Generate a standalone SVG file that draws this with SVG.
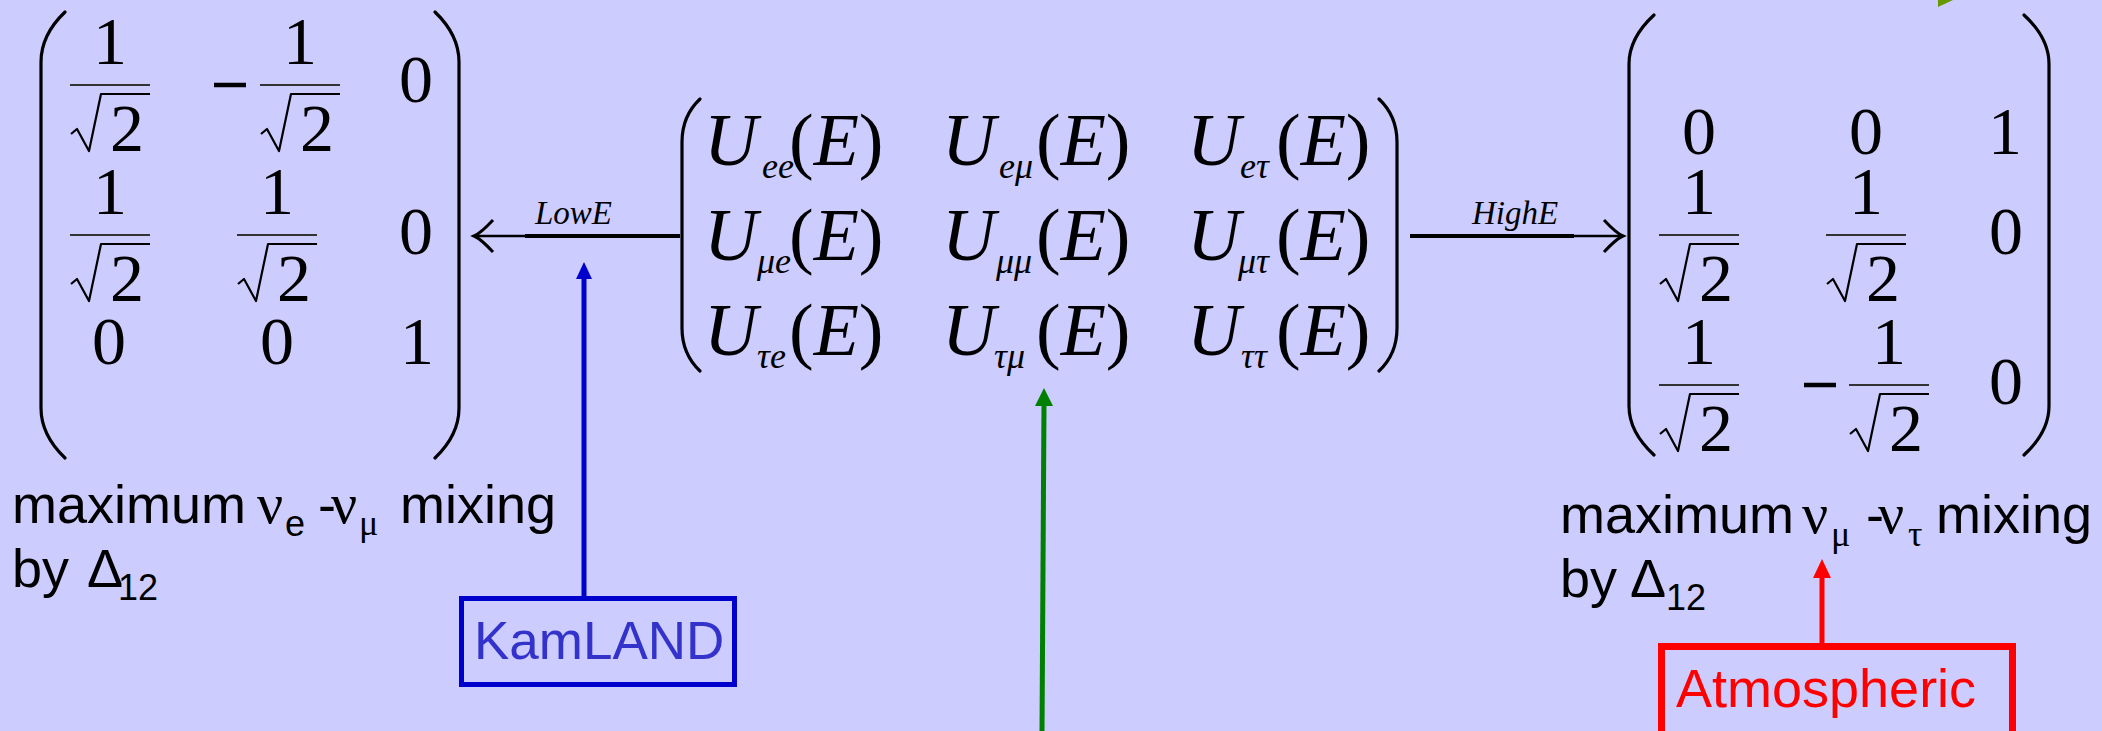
<svg xmlns="http://www.w3.org/2000/svg" width="2102" height="731" viewBox="0 0 2102 731">
<style>
.bg{fill:#ccccff}
.paren{fill:none;stroke:#000;stroke-width:3.2;stroke-linecap:round}
.bar{stroke:#333;stroke-width:2}
.rad{fill:none;stroke:#000;stroke-width:2.2;stroke-linejoin:round}
.minus{stroke:#000;stroke-width:4.5}
.dig{font-family:"Liberation Serif",serif;font-size:68px;text-anchor:middle;fill:#000}
.mi{font-family:"Liberation Serif",serif;font-style:italic;font-size:74px;fill:#000}
.mr{font-style:normal}
.sub{font-size:36px}
.lbl{font-family:"Liberation Serif",serif;font-style:italic;font-size:33px;fill:#000}
.txt{font-family:"Liberation Sans",Arial,sans-serif;font-size:54px;fill:#000}
.grk{font-family:"Liberation Serif",serif;font-size:58px}
.ss{font-size:36px}
.box{fill:none}
</style>
<rect class="bg" x="0" y="0" width="2102" height="731"/>

<g id="matrix-low">
  <path class="paren" d="M65,12 Q41,35 41,62 L41,408 Q41,435 65,458"/>
  <path class="paren" d="M435,12 Q459,35 459,62 L459,408 Q459,435 435,458"/>
  <!-- row 1 -->
  <text class="dig" x="110" y="64">1</text>
  <line class="bar" x1="70" y1="85" x2="150" y2="85"/>
  <polyline class="rad" points="71,134 77,129 89,151 101,94 150,94"/>
  <text class="dig" x="127" y="151">2</text>
  <line class="minus" x1="214" y1="85" x2="246" y2="85"/>
  <text class="dig" x="300" y="64">1</text>
  <line class="bar" x1="260" y1="85" x2="340" y2="85"/>
  <polyline class="rad" points="261,134 267,129 279,151 291,94 340,94"/>
  <text class="dig" x="317" y="151">2</text>
  <text class="dig" x="416" y="102">0</text>
  <!-- row 2 -->
  <text class="dig" x="110" y="214">1</text>
  <line class="bar" x1="70" y1="235" x2="150" y2="235"/>
  <polyline class="rad" points="71,284 77,279 89,301 101,244 150,244"/>
  <text class="dig" x="127" y="301">2</text>
  <text class="dig" x="277" y="214">1</text>
  <line class="bar" x1="237" y1="235" x2="317" y2="235"/>
  <polyline class="rad" points="238,284 244,279 256,301 268,244 317,244"/>
  <text class="dig" x="294" y="301">2</text>
  <text class="dig" x="416" y="254">0</text>
  <!-- row 3 -->
  <text class="dig" x="109" y="364">0</text>
  <text class="dig" x="277" y="364">0</text>
  <text class="dig" x="417" y="364">1</text>
</g>

<g id="matrix-u">
  <path class="paren" d="M700,99 Q682,116 682,142 L682,328 Q682,354 700,371"/>
  <path class="paren" d="M1379,99 Q1397,116 1397,142 L1397,328 Q1397,354 1379,371"/>
  <text class="mi" y="165"><tspan x="704">U</tspan><tspan class="sub" x="762" y="178">ee</tspan><tspan class="mr" x="789" y="165">(</tspan><tspan>E</tspan><tspan class="mr">)</tspan></text>
  <text class="mi" y="165"><tspan x="942">U</tspan><tspan class="sub" x="999" y="178">eμ</tspan><tspan class="mr" x="1036" y="165">(</tspan><tspan>E</tspan><tspan class="mr">)</tspan></text>
  <text class="mi" y="165"><tspan x="1187">U</tspan><tspan class="sub" x="1240" y="178">e</tspan><tspan class="sub" x="1256" y="178">τ</tspan><tspan class="mr" x="1276" y="165">(</tspan><tspan>E</tspan><tspan class="mr">)</tspan></text>
  <text class="mi" y="260"><tspan x="704">U</tspan><tspan class="sub" x="757" y="273">μe</tspan><tspan class="mr" x="789" y="260">(</tspan><tspan>E</tspan><tspan class="mr">)</tspan></text>
  <text class="mi" y="260"><tspan x="942">U</tspan><tspan class="sub" x="996" y="273">μμ</tspan><tspan class="mr" x="1036" y="260">(</tspan><tspan>E</tspan><tspan class="mr">)</tspan></text>
  <text class="mi" y="260"><tspan x="1187">U</tspan><tspan class="sub" x="1238" y="273">μτ</tspan><tspan class="mr" x="1276" y="260">(</tspan><tspan>E</tspan><tspan class="mr">)</tspan></text>
  <text class="mi" y="355"><tspan x="704">U</tspan><tspan class="sub" x="757" y="368">τe</tspan><tspan class="mr" x="789" y="355">(</tspan><tspan>E</tspan><tspan class="mr">)</tspan></text>
  <text class="mi" y="355"><tspan x="942">U</tspan><tspan class="sub" x="994" y="368">τμ</tspan><tspan class="mr" x="1036" y="355">(</tspan><tspan>E</tspan><tspan class="mr">)</tspan></text>
  <text class="mi" y="355"><tspan x="1187">U</tspan><tspan class="sub" x="1241" y="368">ττ</tspan><tspan class="mr" x="1276" y="355">(</tspan><tspan>E</tspan><tspan class="mr">)</tspan></text>
</g>

<g id="matrix-high">
  <path class="paren" d="M1654,15 Q1629,38 1629,64 L1629,406 Q1629,432 1654,455"/>
  <path class="paren" d="M2024,15 Q2049,38 2049,64 L2049,406 Q2049,432 2024,455"/>
  <!-- row 1 -->
  <text class="dig" x="1699" y="154">0</text>
  <text class="dig" x="1866" y="154">0</text>
  <text class="dig" x="2005" y="154">1</text>
  <!-- row 2 -->
  <text class="dig" x="1699" y="214">1</text>
  <line class="bar" x1="1659" y1="235" x2="1739" y2="235"/>
  <polyline class="rad" points="1660,284 1666,279 1678,301 1690,244 1739,244"/>
  <text class="dig" x="1716" y="301">2</text>
  <text class="dig" x="1866" y="214">1</text>
  <line class="bar" x1="1826" y1="235" x2="1906" y2="235"/>
  <polyline class="rad" points="1827,284 1833,279 1845,301 1857,244 1906,244"/>
  <text class="dig" x="1883" y="301">2</text>
  <text class="dig" x="2006" y="254">0</text>
  <!-- row 3 -->
  <text class="dig" x="1699" y="364">1</text>
  <line class="bar" x1="1659" y1="385" x2="1739" y2="385"/>
  <polyline class="rad" points="1660,434 1666,429 1678,451 1690,394 1739,394"/>
  <text class="dig" x="1716" y="451">2</text>
  <line class="minus" x1="1804" y1="385" x2="1836" y2="385"/>
  <text class="dig" x="1889" y="364">1</text>
  <line class="bar" x1="1849" y1="385" x2="1929" y2="385"/>
  <polyline class="rad" points="1850,434 1856,429 1868,451 1880,394 1929,394"/>
  <text class="dig" x="1906" y="451">2</text>
  <text class="dig" x="2006" y="404">0</text>
</g>

<g id="text-low">
  <text class="txt" y="523"><tspan x="12">maximum</tspan><tspan class="grk" x="257">ν</tspan><tspan class="ss" x="285" y="536">e</tspan><tspan x="318" y="523">-</tspan><tspan class="grk" x="331">ν</tspan><tspan class="grk ss" x="359" y="535">μ</tspan><tspan x="400" y="523">mixing</tspan></text>
  <text class="txt" y="587"><tspan x="12">by</tspan><tspan x="87">Δ</tspan><tspan class="ss" x="118" y="600">12</tspan></text>
</g>

<g id="text-high">
  <text class="txt" y="533"><tspan x="1560">maximum</tspan><tspan class="grk" x="1802">ν</tspan><tspan class="grk ss" x="1831" y="546">μ</tspan><tspan x="1866" y="533">-</tspan><tspan class="grk" x="1878">ν</tspan><tspan class="grk ss" x="1908" y="546">τ</tspan><tspan x="1936" y="533">mixing</tspan></text>
  <text class="txt" y="597"><tspan x="1560">by</tspan><tspan x="1630">Δ</tspan><tspan class="ss" x="1666" y="610">12</tspan></text>
</g>

<g id="kamland">
  <rect class="box" x="461.5" y="598.5" width="273" height="86" stroke="#0000cc" stroke-width="5"/>
  <text class="txt" x="474" y="659" style="fill:#3333cc;font-size:53px">KamLAND</text>
</g>

<g id="atmospheric">
  <rect class="box" x="1661.5" y="646.5" width="351" height="120" stroke="#ff0000" stroke-width="7"/>
  <text class="txt" x="1676" y="707" style="fill:#ff0000;font-size:54px">Atmospheric</text>
</g>

<g id="connectors">
  <!-- LowE -->
  <line x1="525" y1="236" x2="680" y2="236" stroke="#000" stroke-width="4"/>
  <line x1="476" y1="236" x2="526" y2="236" stroke="#000" stroke-width="2.5"/>
  <path d="M493,220 Q481,233 474,236 Q481,239 493,252" fill="none" stroke="#000" stroke-width="3"/>
  <text class="lbl" x="535" y="224">LowE</text>
  <!-- HighE -->
  <line x1="1410" y1="236" x2="1574" y2="236" stroke="#000" stroke-width="4"/>
  <line x1="1573" y1="236" x2="1622" y2="236" stroke="#000" stroke-width="2.5"/>
  <path d="M1604,220 Q1616,233 1623,236 Q1616,239 1604,252" fill="none" stroke="#000" stroke-width="3"/>
  <text class="lbl" x="1472" y="224">HighE</text>
  <!-- KamLAND arrow -->
  <line x1="584" y1="597" x2="584" y2="276" stroke="#0000cc" stroke-width="5"/>
  <polygon points="584,262 576,279 592,279" fill="#0000cc"/>
  <!-- Green arrow -->
  <line x1="1042" y1="731" x2="1044" y2="403" stroke="#008000" stroke-width="5"/>
  <polygon points="1044,388 1035,406 1053,406" fill="#008000"/>
  <!-- Atmospheric arrow -->
  <line x1="1822" y1="644" x2="1822" y2="575" stroke="#ff0000" stroke-width="5"/>
  <polygon points="1822,559 1813,578 1831,578" fill="#ff0000"/>
  <!-- partial arrowhead at top right -->
  <polygon points="1938,0 1953,0 1938,7" fill="#669900"/>
</g>
</svg>
